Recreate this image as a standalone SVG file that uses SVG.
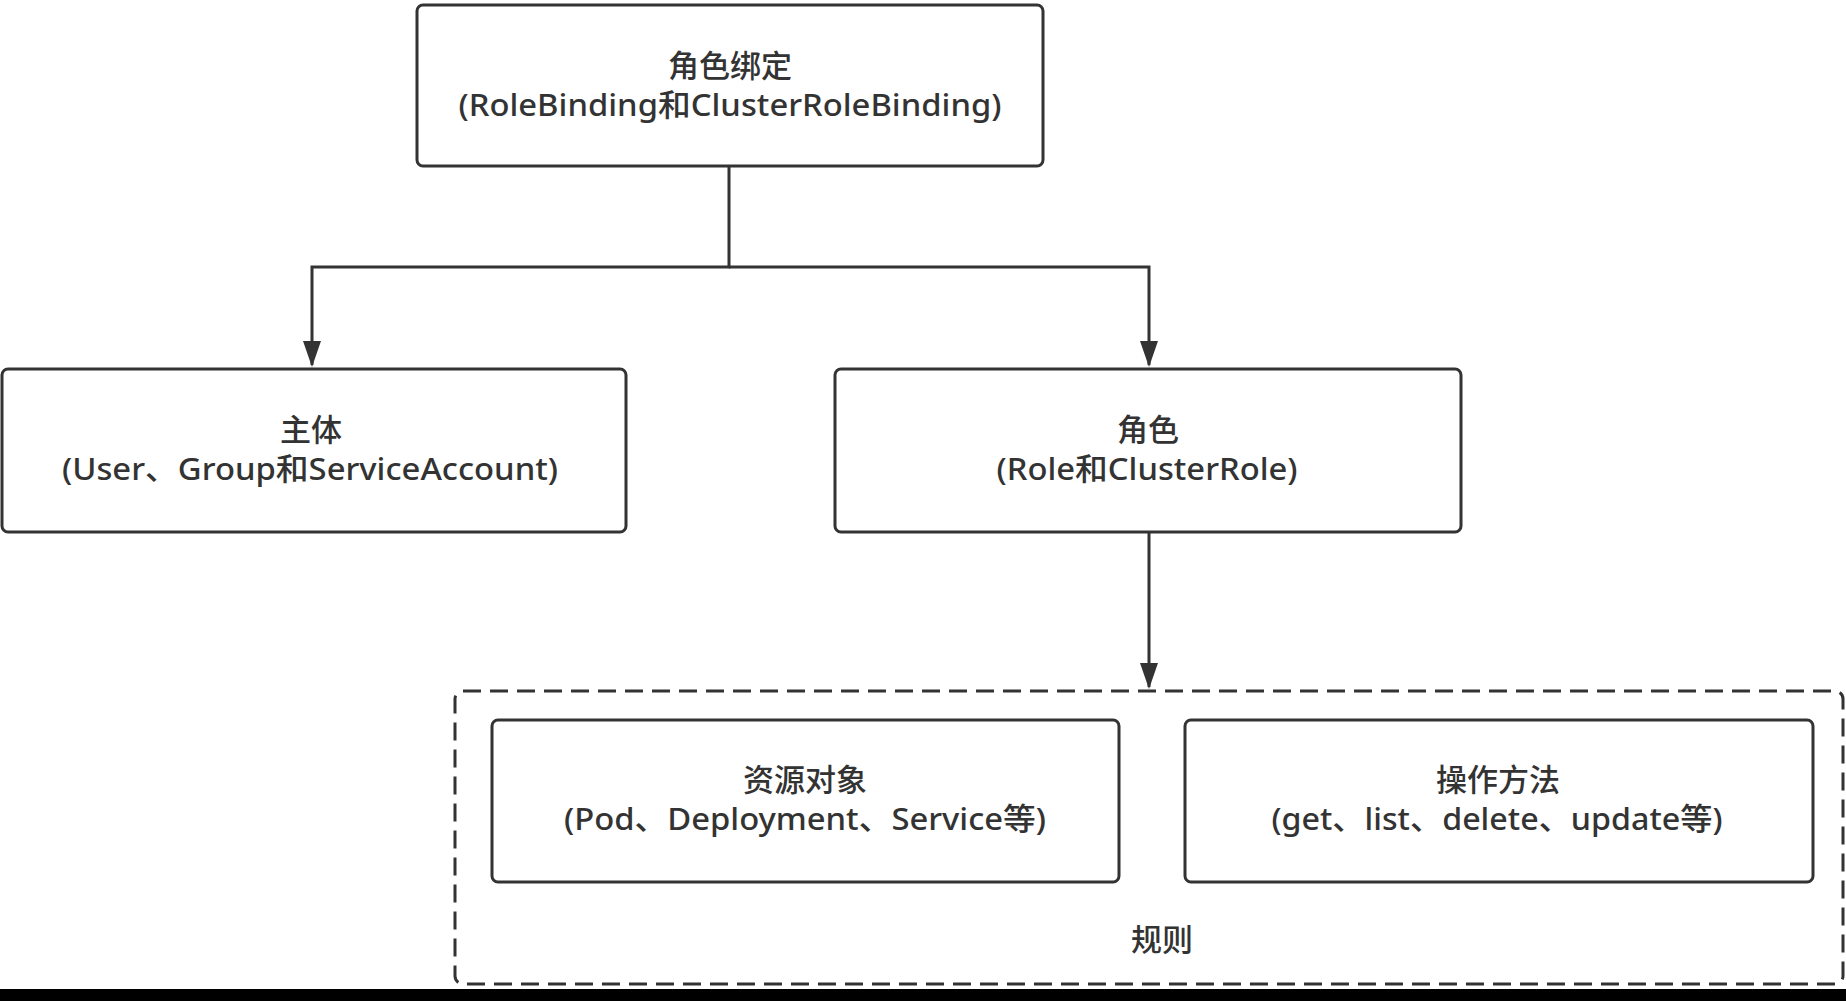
<svg xmlns="http://www.w3.org/2000/svg" width="1846" height="1001" viewBox="0 0 1846 1001">
<style>
.box{fill:#ffffff;stroke:#333333;stroke-width:3}
.dash{fill:none;stroke:#333333;stroke-width:3;stroke-dasharray:18 9}
.conn{fill:none;stroke:#333333;stroke-width:3}
text{font-family:"Noto Sans","Noto Sans CJK SC",sans-serif;font-size:31px;font-weight:500;fill:#333333;text-anchor:middle}
</style>
<defs>
<marker id="arrow" markerUnits="userSpaceOnUse" markerWidth="28" markerHeight="20" refX="24" refY="9" orient="auto">
<path d="M0,0 L26,9 L0,18 z" fill="#333333"/>
</marker>
</defs>
<rect x="0" y="0" width="1846" height="1001" fill="#ffffff"/>
<g id="connectors">
<path class="conn" d="M729 166 V267 H312 V365" marker-end="url(#arrow)"/>
<path class="conn" d="M729 267 H1149 V365" marker-end="url(#arrow)"/>
<path class="conn" d="M1149 532 V687" marker-end="url(#arrow)"/>
</g>
<g id="rolebinding">
<rect class="box" x="417" y="5" width="626" height="161" rx="6"/>
<text x="730" y="77">角色绑定</text>
<text x="730" y="116" textLength="543" lengthAdjust="spacingAndGlyphs">(RoleBinding和ClusterRoleBinding)</text>
</g>
<g id="subject">
<rect class="box" x="2" y="369" width="624" height="163" rx="6"/>
<text x="311" y="441">主体</text>
<text x="310" y="480" textLength="496" lengthAdjust="spacingAndGlyphs">(User、Group和ServiceAccount)</text>
</g>
<g id="role">
<rect class="box" x="835" y="369" width="626" height="163" rx="6"/>
<text x="1148" y="441">角色</text>
<text x="1147" y="480" textLength="301" lengthAdjust="spacingAndGlyphs">(Role和ClusterRole)</text>
</g>
<g id="rules">
<rect class="dash" x="455" y="691" width="1388" height="293" rx="8"/>
<text x="1162" y="951">规则</text>
</g>
<g id="resources">
<rect class="box" x="492" y="720" width="627" height="162" rx="6"/>
<text x="805" y="791">资源对象</text>
<text x="805" y="830" textLength="482" lengthAdjust="spacingAndGlyphs">(Pod、Deployment、Service等)</text>
</g>
<g id="operations">
<rect class="box" x="1185" y="720" width="628" height="162" rx="6"/>
<text x="1498" y="791">操作方法</text>
<text x="1497" y="830" textLength="451" lengthAdjust="spacingAndGlyphs">(get、list、delete、update等)</text>
</g>
<rect x="0" y="989" width="1846" height="12" fill="#000000"/>
</svg>
